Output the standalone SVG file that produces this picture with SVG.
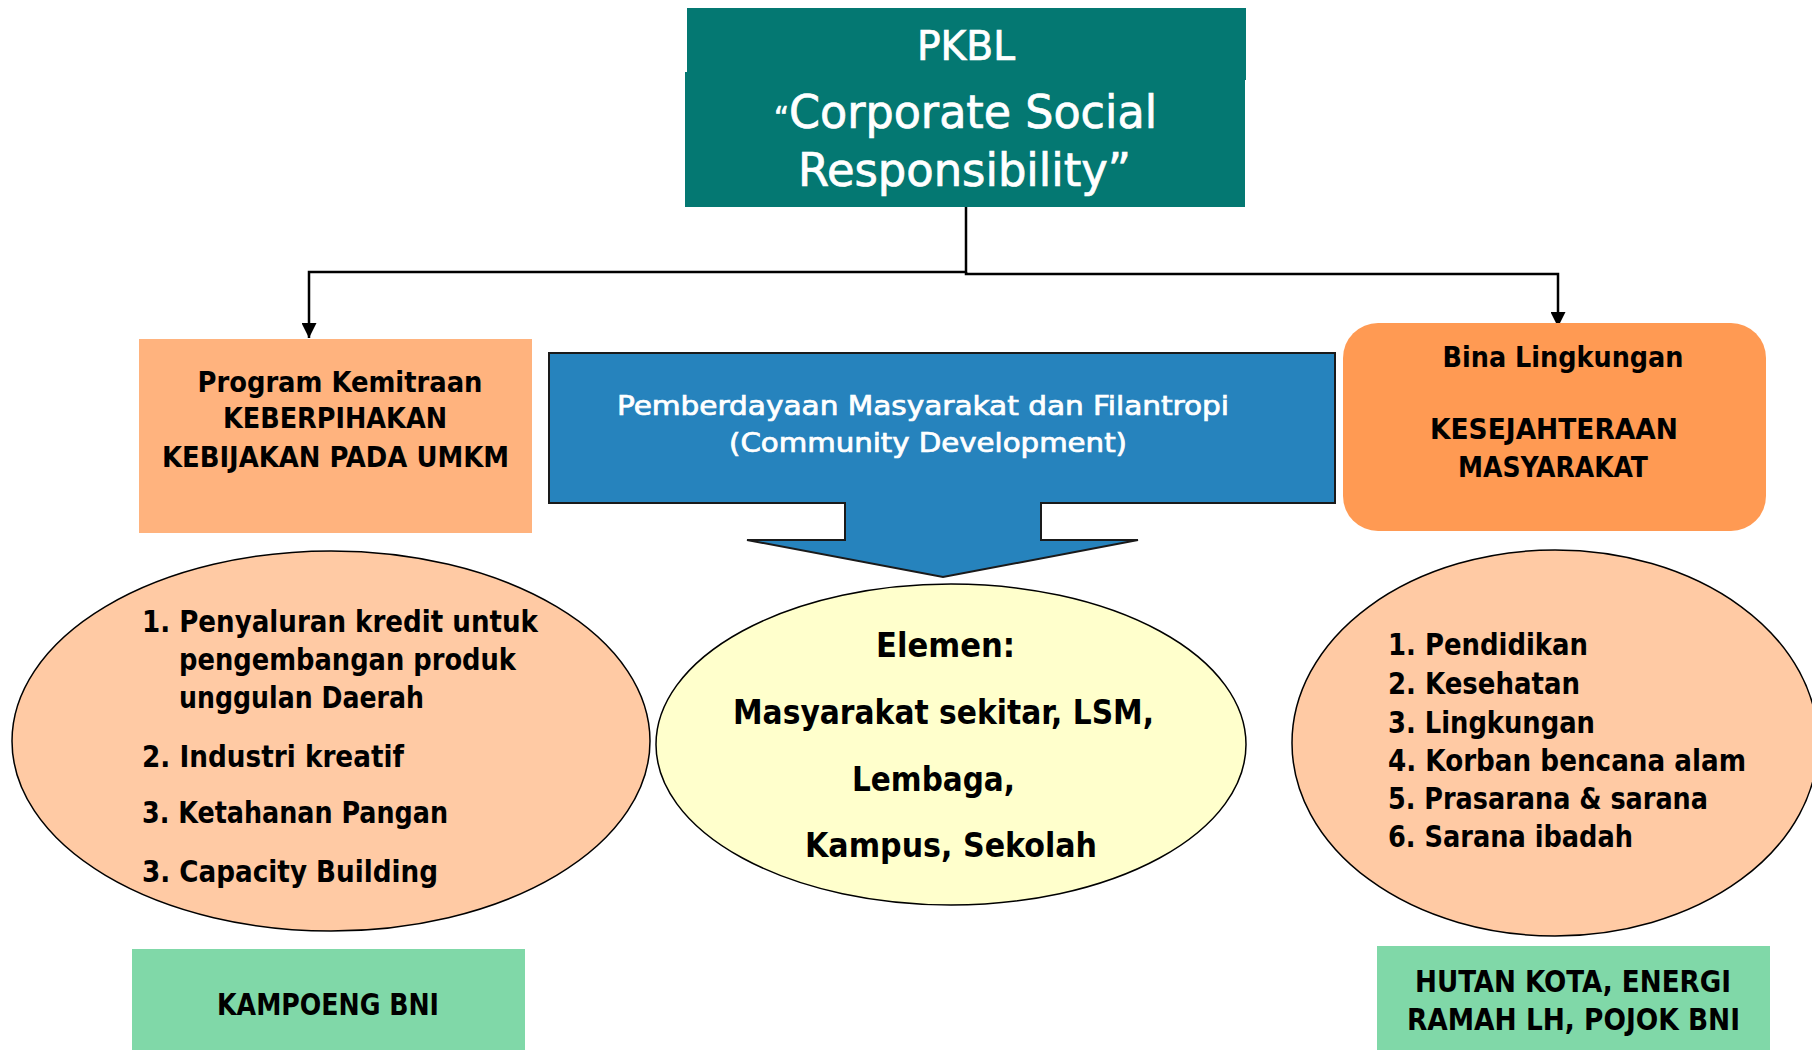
<svg xmlns="http://www.w3.org/2000/svg" width="1812" height="1050" viewBox="0 0 1812 1050">
<style>
.t{font-family:"DejaVu Sans Condensed","DejaVu Sans","Liberation Sans",sans-serif;}
.b{font-weight:bold;fill:#000;}
.w{fill:#fff;stroke:#fff;stroke-width:0.7;}
.c{text-anchor:middle;}
.conn{fill:none;stroke:#000;stroke-width:2.5;}
.ell{stroke:#000;stroke-width:1.5;}
</style>
<defs>
<marker id="ah" viewBox="0 0 10 10" refX="10" refY="5" markerWidth="6" markerHeight="6" markerUnits="strokeWidth" orient="auto">
<path d="M0,0 L10,5 L0,10 Z" fill="#000"/>
</marker>
</defs>
<rect width="1812" height="1050" fill="#fff"/>

<g id="connectors">
<path class="conn" d="M966,207 V272 H309 V338" marker-end="url(#ah)"/>
<path class="conn" d="M966,272 V274 H1558 V327" marker-end="url(#ah)"/>
</g>

<g id="pkbl">
<rect x="687" y="8" width="559" height="72" fill="#047872"/>
<rect x="685" y="72" width="560" height="135" fill="#047872"/>
<text class="t w c" x="966" y="60" font-size="40" textLength="98" lengthAdjust="spacingAndGlyphs">PKBL</text>
<text class="t w" x="774" y="128" font-size="46" textLength="383" lengthAdjust="spacingAndGlyphs"><tspan font-size="30">“</tspan>Corporate Social</text>
<text class="t w" x="798" y="186" font-size="46" textLength="333" lengthAdjust="spacingAndGlyphs">Responsibility”</text>
</g>

<g id="program-kemitraan">
<rect x="139" y="339" width="393" height="194" fill="#FFB37E"/>
<text class="t b c" x="340" y="392" font-size="28" textLength="285" lengthAdjust="spacingAndGlyphs">Program Kemitraan</text>
<text class="t b c" x="335" y="428" font-size="28" textLength="224" lengthAdjust="spacingAndGlyphs">KEBERPIHAKAN</text>
<text class="t b c" x="335.5" y="467" font-size="28" textLength="347" lengthAdjust="spacingAndGlyphs">KEBIJAKAN PADA UMKM</text>
</g>

<g id="community-development">
<path d="M549,353 H1335 V503 H1041 V540 H1138 L943,577 L747,540 H845 V503 H549 Z" fill="#2683BD" stroke="#1a1a1a" stroke-width="2"/>
<text class="t w c" x="923" y="415" font-size="27" textLength="612" lengthAdjust="spacingAndGlyphs">Pemberdayaan Masyarakat dan Filantropi</text>
<text class="t w c" x="928" y="452" font-size="27" textLength="398" lengthAdjust="spacingAndGlyphs">(Community Development)</text>
</g>

<g id="bina-lingkungan">
<rect x="1343" y="323" width="423" height="208" rx="35" ry="35" fill="#FF9A53"/>
<text class="t b c" x="1563" y="367" font-size="29" textLength="241" lengthAdjust="spacingAndGlyphs">Bina Lingkungan</text>
<text class="t b c" x="1554" y="439" font-size="29" textLength="248" lengthAdjust="spacingAndGlyphs">KESEJAHTERAAN</text>
<text class="t b c" x="1553" y="477" font-size="29" textLength="190" lengthAdjust="spacingAndGlyphs">MASYARAKAT</text>
</g>

<g id="list-kemitraan">
<ellipse class="ell" cx="331" cy="741" rx="319" ry="190" fill="#FFCAA4"/>
<text class="t b" x="142" y="632" font-size="30" textLength="396" lengthAdjust="spacingAndGlyphs">1. Penyaluran kredit untuk</text>
<text class="t b" x="179" y="670" font-size="30" textLength="337" lengthAdjust="spacingAndGlyphs">pengembangan produk</text>
<text class="t b" x="179" y="708" font-size="30" textLength="245" lengthAdjust="spacingAndGlyphs">unggulan Daerah</text>
<text class="t b" x="142" y="767" font-size="30" textLength="262" lengthAdjust="spacingAndGlyphs">2. Industri kreatif</text>
<text class="t b" x="142" y="823" font-size="30" textLength="306" lengthAdjust="spacingAndGlyphs">3. Ketahanan Pangan</text>
<text class="t b" x="142" y="882" font-size="30" textLength="296" lengthAdjust="spacingAndGlyphs">3. Capacity Building</text>
</g>

<g id="elemen">
<ellipse class="ell" cx="951" cy="744.5" rx="295" ry="160.5" fill="#FFFFCC"/>
<text class="t b c" x="945.5" y="657" font-size="33" textLength="139" lengthAdjust="spacingAndGlyphs">Elemen:</text>
<text class="t b c" x="943.5" y="724" font-size="33" textLength="421" lengthAdjust="spacingAndGlyphs">Masyarakat sekitar, LSM,</text>
<text class="t b c" x="933.5" y="791" font-size="33" textLength="163" lengthAdjust="spacingAndGlyphs">Lembaga,</text>
<text class="t b c" x="951" y="857" font-size="33" textLength="292" lengthAdjust="spacingAndGlyphs">Kampus, Sekolah</text>
</g>

<g id="list-bina">
<ellipse class="ell" cx="1555" cy="743" rx="263" ry="193" fill="#FFCAA4"/>
<text class="t b" x="1388" y="655" font-size="30" textLength="200" lengthAdjust="spacingAndGlyphs">1. Pendidikan</text>
<text class="t b" x="1388" y="694" font-size="30" textLength="192" lengthAdjust="spacingAndGlyphs">2. Kesehatan</text>
<text class="t b" x="1388" y="733" font-size="30" textLength="207" lengthAdjust="spacingAndGlyphs">3. Lingkungan</text>
<text class="t b" x="1388" y="771" font-size="30" textLength="358" lengthAdjust="spacingAndGlyphs">4. Korban bencana alam</text>
<text class="t b" x="1388" y="809" font-size="30" textLength="320" lengthAdjust="spacingAndGlyphs">5. Prasarana &amp; sarana</text>
<text class="t b" x="1388" y="847" font-size="30" textLength="245" lengthAdjust="spacingAndGlyphs">6. Sarana ibadah</text>
</g>

<g id="kampoeng-bni">
<rect x="132" y="949" width="393" height="101" fill="#80D8A8"/>
<text class="t b c" x="328" y="1015" font-size="30" textLength="222" lengthAdjust="spacingAndGlyphs">KAMPOENG BNI</text>
</g>

<g id="hutan-kota">
<rect x="1377" y="946" width="393" height="104" fill="#80D8A8"/>
<text class="t b c" x="1573" y="992" font-size="30" textLength="316" lengthAdjust="spacingAndGlyphs">HUTAN KOTA, ENERGI</text>
<text class="t b c" x="1573.5" y="1030" font-size="30" textLength="333" lengthAdjust="spacingAndGlyphs">RAMAH LH, POJOK BNI</text>
</g>
</svg>
